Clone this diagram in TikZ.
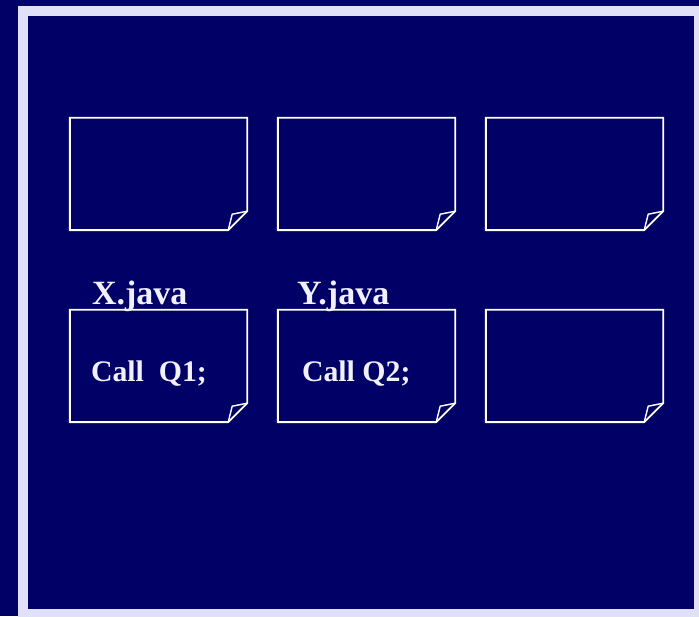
\documentclass[tikz,border=0pt]{standalone}
\usepackage{fontspec}
\setmainfont{Liberation Serif}
\usepackage{tikz}
\usetikzlibrary{positioning}

\definecolor{slide}{RGB}{0,0,102}
\definecolor{rim}{RGB}{224,224,248}
\definecolor{ink}{RGB}{240,240,255}

\begin{document}
\begin{tikzpicture}[x=1pt,y=1pt,
            card/.style={rectangle,minimum width=177pt,minimum height=112pt,inner sep=0,node distance=208pt},
            cardline/.style={draw=white,line width=1.9pt,line join=miter},
            fname/.style={anchor=base west,inner sep=0,text=ink,font=\bfseries\fontsize{34}{34}\selectfont},
            code/.style={anchor=base west,inner sep=0,text=ink,font=\bfseries\fontsize{29.8}{30}\selectfont}
          ]
          \useasboundingbox (0,0) rectangle (699,616);
          %slide background
          \fill[slide] (0,0) rectangle (699,616);
          \fill[rim] (18,-4) rectangle (705,610);
          \fill[slide] (28,7) rectangle (694,600);

          %cards
          \node[card] (a1) at (158.5,442) {};
          \node[card,right of = a1] (a2) {};
          \node[card,right of = a2] (a3) {};
          \node[card] (b1) at (158.5,250) {};
          \node[card,right of = b1] (b2) {};
          \node[card,right of = b2] (b3) {};

          %outline with turned corner
          \foreach \c in {a1,a2,a3,b1,b2,b3} {
            \draw[cardline] (\c.north west) -- (\c.north east) -- ([yshift=19pt]\c.south east)
              -- ([xshift=-19pt]\c.south east) -- (\c.south west) -- cycle;
            \draw[cardline,line width=1.4pt] ([xshift=-19pt]\c.south east) -- ([shift={(-15pt,16pt)}]\c.south east)
              -- ([yshift=19pt]\c.south east);
          }

          %file names
          \node[fname] (xname) at ([shift={(22pt,5pt)}]b1.north west) {X.java};
          \node[fname] (yname) at ([shift={(19pt,5pt)}]b2.north west) {Y.java};

          %calls
          \node[code] (xcall) at ([shift={(21pt,-16pt)}]b1.west) {Call~~Q1;};
          \node[code] (ycall) at ([shift={(24pt,-16pt)}]b2.west) {Call Q2;};
\end{tikzpicture}
\end{document}
